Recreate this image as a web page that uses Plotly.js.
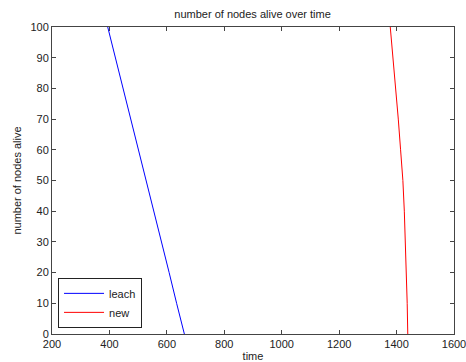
<!DOCTYPE html>
<html>
<head>
<meta charset="utf-8">
<script src="https://cdn.plot.ly/plotly-3.0.1.min.js"></script>
<style>html,body{margin:0;padding:0;background:#fff;}#chart{width:466px;height:362px;}</style>
</head>
<body>
<div id="chart"></div>
<script>
var nodesAlive = [100, 90, 80, 70, 60, 50, 40, 30, 20, 10, 0];
var leachTime = [394, 421, 447, 474, 501, 528, 554, 581, 608, 634, 661];
var newTime = [1378, 1388, 1397, 1406, 1414, 1422, 1427, 1431, 1434, 1437, 1439];
var xTicks = [200, 400, 600, 800, 1000, 1200, 1400, 1600];
var yTicks = [0, 10, 20, 30, 40, 50, 60, 70, 80, 90, 100];

var traces = [
  {x: leachTime, y: nodesAlive, type: 'scatter', mode: 'lines', name: 'leach', line: {color: '#0000ff', width: 1}},
  {x: newTime, y: nodesAlive, type: 'scatter', mode: 'lines', name: 'new', line: {color: '#ff0000', width: 1}}
];

var axisCommon = {
  showgrid: false, zeroline: false, showline: true, linecolor: '#444', linewidth: 1,
  mirror: 'ticks', ticks: 'inside', ticklen: 4, tickcolor: '#444', ticklabeloverflow: 'allow',
  tickfont: {family: 'Liberation Sans, Arial, sans-serif', size: 11, color: '#222'}
};

var layout = {
  width: 466, height: 362,
  margin: {l: 52, r: 12, t: 27, b: 28},
  paper_bgcolor: '#fff', plot_bgcolor: '#fff',
  title: {text: 'number of nodes alive over time', font: {family: 'Liberation Sans, Arial, sans-serif', size: 11, color: '#222'}, x: 0.542, xanchor: 'center', y: 0.962, yanchor: 'middle'},
  xaxis: Object.assign({}, axisCommon, {range: [200, 1600], tickvals: xTicks, ticktext: xTicks.map(String), automargin: false,
    title: {text: 'time', font: {family: 'Liberation Sans, Arial, sans-serif', size: 11, color: '#222'}, standoff: 4}}),
  yaxis: Object.assign({}, axisCommon, {range: [0, 100], tickvals: yTicks, ticktext: yTicks.map(String), automargin: false,
    title: {text: 'number of nodes alive', font: {family: 'Liberation Sans, Arial, sans-serif', size: 11, color: '#222'}, standoff: 6}}),
  showlegend: true,
  legend: {x: 0.015, y: 0.02, xanchor: 'left', yanchor: 'bottom', bgcolor: '#fff', bordercolor: '#222', borderwidth: 1,
    font: {family: 'Liberation Sans, Arial, sans-serif', size: 11, color: '#222'}, tracegroupgap: 0, itemwidth: 40}
};

Plotly.newPlot('chart', traces, layout, {displayModeBar: false, staticPlot: true});
</script>
</body>
</html>
